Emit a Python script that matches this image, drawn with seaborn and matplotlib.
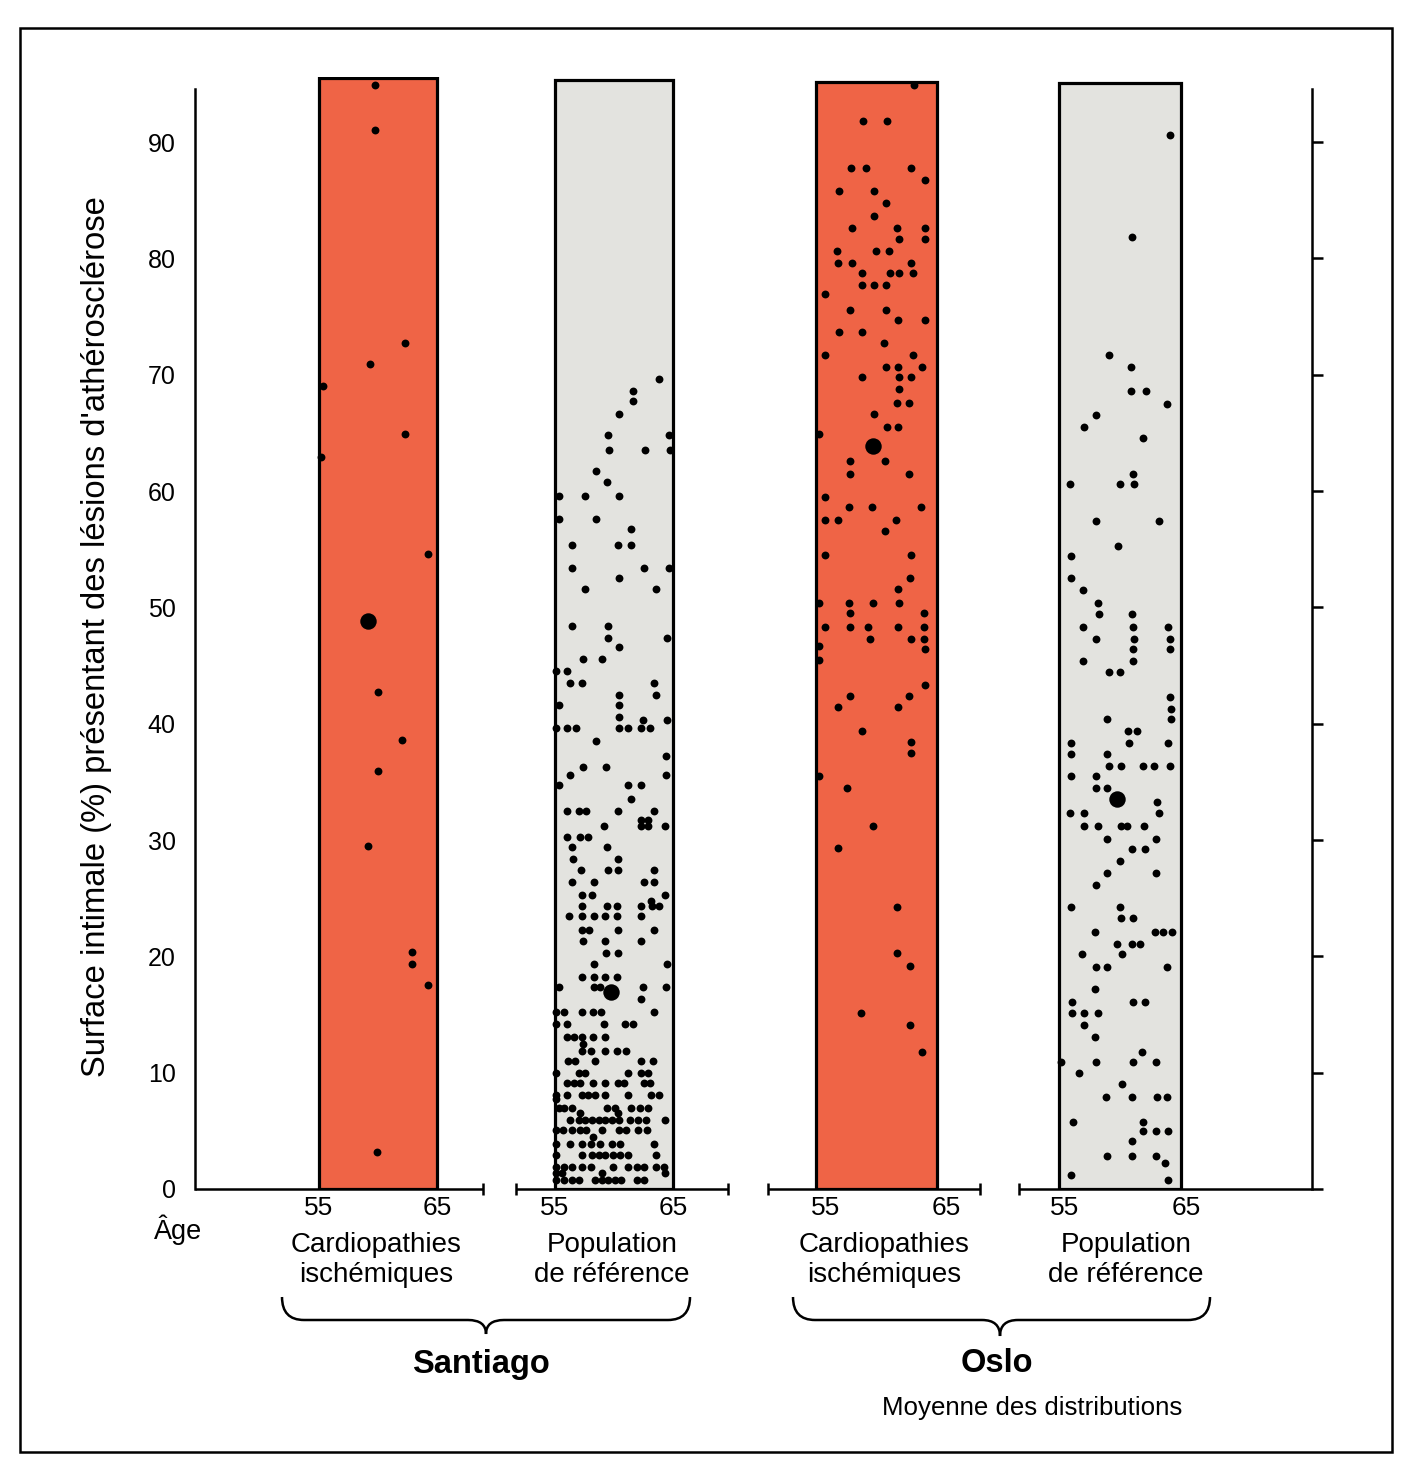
import numpy as np
import pandas as pd
import matplotlib
matplotlib.use("Agg")
import matplotlib.pyplot as plt
from matplotlib.path import Path
from matplotlib.patches import PathPatch, Rectangle
from matplotlib import font_manager
import seaborn as sns

# ------------------------------------------------------------------
# data : age (years) and intimal surface with atherosclerosis (%)
# ------------------------------------------------------------------
groups = ["Santiago cardio", "Santiago ref", "Oslo cardio", "Oslo ref"]

# Santiago - cardiopathies ischemiques
sc_age = [59.7, 59.7, 59.3, 62.3, 55.3, 55.2, 62.3, 64.2, 60.0, 62.0, 60.0,
          59.1, 62.9, 62.9, 64.2, 59.9]
sc_pct = [94.9, 91.0, 70.9, 72.7, 69.0, 62.9, 64.9, 54.6, 42.7, 38.6, 35.9,
          29.5, 20.4, 19.3, 17.5, 3.2]

# Santiago - population de reference (one list of ages per % level)
sr_levels = [69.6, 68.6, 67.7, 66.6, 64.8, 63.5, 61.7, 60.8, 59.6, 57.6, 56.7,
             55.4, 53.4, 52.5, 51.6, 48.4, 47.4, 46.6, 45.6, 44.5, 43.5, 42.5,
             41.6, 40.6, 40.3, 39.6, 38.5, 37.2, 36.3, 35.6, 34.7, 33.5, 32.5,
             31.7, 31.2, 30.3, 29.4, 28.4, 27.4, 26.4, 25.3, 24.8, 24.3, 23.5,
             22.3, 21.3, 20.3, 19.3, 18.2, 17.4, 16.3, 15.2, 14.2, 13.1, 12.5,
             11.9, 11.0, 10.0, 9.1, 8.1, 7.7, 7.0, 6.5, 5.9, 5.1, 4.5, 3.9,
             2.9, 1.9, 1.4, 0.8]
sr_ages = [[63.8], [61.6], [61.6], [60.4], [59.5, 64.6], [59.6, 62.6, 64.7],
           [58.5], [59.4], [55.3, 57.5, 60.4], [55.3, 58.5], [61.4],
           [56.4, 60.3, 61.4], [56.4, 62.5, 64.6], [60.4], [57.5, 63.5],
           [56.4, 59.5], [59.5, 64.5], [60.4], [57.4, 59.0], [55.1, 56.0],
           [56.3, 57.3, 63.4], [60.4, 63.5], [55.3, 60.4], [60.4], [62.4, 64.5],
           [55.1, 56.0, 56.8, 60.4, 61.2, 62.3, 63.0], [58.5], [64.4],
           [57.4, 59.3], [56.3, 64.4], [55.3, 61.2, 62.3], [61.4],
           [56.0, 57.0, 57.6, 60.3, 63.4], [62.3, 62.9], [59.1, 62.3, 62.9, 64.3],
           [56.0, 57.1, 57.8], [56.4, 59.4], [56.5, 60.3],
           [57.2, 59.5, 60.3, 63.4], [56.4, 58.3, 62.5, 63.4], [57.3, 58.1, 64.3],
           [63.1], [57.3, 59.4, 60.2, 62.3, 63.2, 63.8],
           [56.2, 57.3, 58.3, 59.2, 60.2, 62.3], [57.3, 57.9, 60.3, 63.4],
           [57.4, 59.2, 62.3], [59.3, 60.3], [58.3, 64.5],
           [57.3, 58.3, 59.2, 60.2], [55.3, 58.3, 58.8, 62.4, 64.4], [62.3],
           [55.1, 55.8, 57.3, 58.2, 58.9, 63.4], [55.1, 56.0, 59.1, 60.9, 61.6],
           [56.0, 56.6, 57.3, 58.2, 59.2], [57.4],
           [57.3, 58.0, 59.2, 60.2, 61.0], [56.1, 56.7, 58.4, 62.3, 63.3],
           [55.1, 57.0, 57.5, 61.2, 62.3, 62.9],
           [56.0, 56.6, 57.1, 58.2, 59.2, 60.3, 60.8, 62.5, 63.0],
           [55.1, 56.0, 57.3, 57.8, 58.4, 59.2, 61.2, 63.1, 63.8], [55.1],
           [55.3, 55.8, 56.4, 59.4, 60.1, 61.4, 62.2, 62.9], [57.1, 60.3],
           [56.3, 57.0, 57.5, 58.1, 58.7, 59.2, 59.8, 60.4, 61.3, 62.0, 62.7, 64.3],
           [55.1, 55.7, 56.4, 57.1, 57.6, 59.0, 60.4, 61.0, 62.0, 62.8], [58.2],
           [55.1, 56.3, 57.3, 58.0, 58.8, 59.8, 60.5, 63.4],
           [55.1, 57.3, 58.1, 58.7, 59.2, 59.9, 60.5, 61.2, 63.5],
           [55.1, 55.8, 56.4, 57.3, 58.0, 59.9, 61.2, 61.9, 62.5, 63.5, 64.2],
           [55.1, 55.6, 59.0, 64.3],
           [55.1, 55.8, 56.4, 57.0, 58.4, 59.0, 59.5, 60.1, 60.6, 61.9, 62.5]]

# Oslo - cardiopathies ischemiques
oc_levels = [94.9, 91.8, 87.8, 86.7, 85.8, 84.8, 83.6, 82.6, 81.7, 80.6, 79.6,
             78.7, 77.7, 76.9, 75.6, 74.7, 73.7, 72.7, 71.7, 70.7, 69.8, 68.8,
             67.6, 66.6, 65.5, 64.9, 62.6, 61.5, 59.5, 58.6, 57.5, 56.6, 54.5,
             52.5, 51.6, 50.4, 49.5, 48.3, 47.3, 46.7, 46.4, 45.5, 43.3, 42.4,
             41.4, 39.4, 38.4, 37.5, 35.5, 34.5, 31.2, 29.3, 24.2, 20.3, 19.2,
             15.1, 14.1, 11.8]
oc_ages = [[63.1], [58.9, 60.9], [57.9, 59.1, 62.9], [64.0], [56.9, 59.8],
           [60.8], [59.8], [58.0, 61.7, 64.0], [61.9, 64.0], [56.7, 60.0, 61.0],
           [56.8, 58.0, 62.9], [58.8, 61.1, 61.9, 63.0], [58.8, 59.8, 60.8],
           [55.7], [57.8, 60.8], [61.8, 64.0], [56.9, 58.8], [60.6], [55.7, 63.0],
           [60.8, 61.8, 63.8], [58.8, 61.9, 62.9], [61.9], [61.7, 62.7], [59.8],
           [60.9, 61.8], [55.2], [57.8, 60.7], [57.8, 62.7], [55.7],
           [57.7, 59.6, 63.7], [55.7, 56.8, 61.6], [60.7], [55.7, 62.9], [62.8],
           [61.8], [55.2, 57.7, 59.7, 61.9], [57.8, 63.9],
           [55.7, 57.8, 59.3, 61.8, 63.9], [59.5, 62.9, 63.9], [55.2], [64.0],
           [55.2], [64.0], [57.8, 62.7], [56.8, 61.8], [58.8], [62.9], [62.9],
           [55.2], [57.6], [59.7], [56.8], [61.7], [61.7], [62.8], [58.7],
           [62.8], [63.8]]

# Oslo - population de reference
or_levels = [90.6, 81.8, 71.7, 70.7, 68.6, 67.5, 66.5, 65.5, 64.6, 61.5, 60.6,
             57.4, 55.3, 54.4, 52.5, 51.5, 50.4, 49.4, 48.3, 47.3, 46.4, 45.4,
             44.4, 42.3, 41.3, 40.4, 39.4, 38.3, 37.4, 36.4, 35.5, 34.5, 33.3,
             32.3, 31.2, 30.1, 29.2, 28.2, 27.2, 26.1, 24.2, 23.3, 22.1, 21.1,
             20.2, 19.1, 17.2, 16.1, 15.1, 14.1, 13.1, 11.8, 10.9, 10.0, 9.0,
             7.9, 5.8, 5.0, 4.1, 2.8, 2.2, 1.2, 0.8]
or_ages = [[64.1], [61.0], [59.1], [60.9], [60.9, 62.2], [63.9], [58.1], [57.1],
           [61.9], [61.1], [55.9, 60.0, 61.2], [58.1, 63.2], [59.9], [56.0],
           [56.0], [57.0], [58.2], [58.3, 61.0], [57.0, 61.1, 64.0],
           [58.1, 61.2, 64.1], [61.1, 64.1], [57.0, 61.1], [59.1, 60.0], [64.1],
           [64.2], [59.0, 64.2], [60.7, 61.4], [56.0, 60.8, 64.0], [56.0, 59.0],
           [59.1, 60.1, 61.9, 62.8, 64.1], [56.0, 58.1], [58.1, 59.0], [63.1],
           [55.9, 57.1, 63.2], [57.1, 58.2, 60.1, 60.6, 62.0], [59.0, 63.0],
           [61.0, 62.1], [60.0], [59.0, 63.0], [58.1], [56.0, 60.0], [60.1, 61.1],
           [58.0, 62.9, 63.6, 64.3], [59.8, 61.0, 61.7], [56.9, 60.2],
           [58.1, 59.0, 63.9], [58.0], [56.1, 61.1, 62.1], [56.1, 57.1, 58.2],
           [57.1], [58.0], [61.8], [55.2, 58.1, 61.1, 63.0], [56.7], [60.2],
           [58.9, 61.0, 63.1, 63.9], [56.2, 61.9], [61.9, 63.0, 64.0], [61.0],
           [59.0, 61.0, 63.0], [63.7], [56.0], [64.0]]

# group means (large dots) and height of the shaded bands
mean_age = [59.1, 59.7, 59.7, 59.8]
mean_pct = [48.8, 16.9, 63.9, 33.5]
band_top = [95.5, 95.3, 95.2, 95.1]

# ------------------------------------------------------------------
W, H = 1421, 1468
offsets = [0.0, 19.75, 41.6, 61.9]          # left edge of each band (age 55)
widths = [9.9, 9.9, 10.1, 10.2]
label_shift = [0.0, 0.0, 0.8, 0.5]          # printed "55/65" sit a bit right in Oslo
band_colors = ["#ef6446", "#e3e3df", "#ef6446", "#e3e3df"]


def expand(levels, ages):
    a = [x for lv, row in zip(levels, ages) for x in row]
    p = [lv for lv, row in zip(levels, ages) for x in row]
    return a, p


sr_a, sr_p = expand(sr_levels, sr_ages)
oc_a, oc_p = expand(oc_levels, oc_ages)
or_a, or_p = expand(or_levels, or_ages)

frames = []
for g, a, p in zip(groups, [sc_age, sr_a, oc_a, or_a], [sc_pct, sr_p, oc_p, or_p]):
    frames.append(pd.DataFrame({"group": g, "age": a, "pct": p}))
df = pd.concat(frames, ignore_index=True)
off_map = dict(zip(groups, offsets))
w_map = dict(zip(groups, widths))
df["x"] = df["group"].map(off_map) + (df["age"] - 55) * df["group"].map(w_map) / 10

df_mean = pd.DataFrame({"group": groups, "age": mean_age, "pct": mean_pct})
df_mean["x"] = (df_mean["group"].map(off_map)
                + (df_mean["age"] - 55) * df_mean["group"].map(w_map) / 10)

sns.set_style("white")
plt.rcParams["font.family"] = ["Liberation Sans", "DejaVu Sans"]
plt.rcParams["text.color"] = "black"
plt.rcParams["xtick.color"] = "black"
plt.rcParams["ytick.color"] = "black"

try:
    font_manager.findfont("Liberation Sans Narrow", fallback_to_default=False)
    narrow = ["Liberation Sans Narrow", "Liberation Sans"]
    narrow_size = 22.5
except Exception:
    narrow = ["Liberation Sans", "DejaVu Sans"]
    narrow_size = 18.6

fig = plt.figure(figsize=(W / 100, H / 100), dpi=100)
fig.patch.set_facecolor("white")


def fx(x):
    return x / W


def fy(y):
    return 1 - y / H


px_per_unit = 11.633
ax = fig.add_axes([fx(195), fy(1189), (1312 - 195) / W, 95.6 * px_per_unit / H])
ax.set_facecolor("none")

ax.bar(offsets, band_top, width=widths, align="edge", color=band_colors,
       edgecolor="black", linewidth=2.3, zorder=1)

sns.scatterplot(data=df, x="x", y="pct", color="black", s=32, linewidth=0,
                ax=ax, legend=False, zorder=3, clip_on=False)
sns.scatterplot(data=df_mean, x="x", y="pct", color="black", s=140, linewidth=0,
                ax=ax, legend=False, zorder=4)

xmin, xmax = -10.38, 83.1
ax.set_xlim(xmin, xmax)
ax.set_ylim(0, 95.6)
ax.set_xlabel("")
ax.set_ylabel("")

for s in ["top", "bottom", "right"]:
    ax.spines[s].set_visible(False)
ax.spines["left"].set_bounds(0, 94.6)
ax.spines["left"].set_linewidth(1.8)
ax.spines["left"].set_color("black")

ax.set_yticks(range(0, 100, 10))
ax.tick_params(axis="y", length=0, pad=14, labelsize=18)

xt = []
for o, w, sh in zip(offsets, widths, label_shift):
    xt += [o + sh, o + w + sh]
ax.set_xticks(xt, ["55", "65"] * 4)
ax.tick_params(axis="x", length=0, pad=5, labelsize=19)

# right hand axis with outward ticks, no labels
ax2 = ax.twinx()
ax2.set_ylim(0, 95.6)
for s in ["top", "bottom", "left"]:
    ax2.spines[s].set_visible(False)
ax2.spines["right"].set_bounds(0, 94.6)
ax2.spines["right"].set_linewidth(1.8)
ax2.spines["right"].set_color("black")
ax2.set_yticks(range(0, 100, 10))
ax2.tick_params(axis="y", direction="out", length=8, width=1.8, labelright=False)

# broken baseline, one piece per group
u = lambda p: (p - 319) / 11.95
pieces = [(195, 483), (516, 728), (768, 980), (1019, 1312)]
for a, b in pieces:
    ax.plot([u(a), u(b)], [0, 0], color="black", lw=1.8, clip_on=False,
            solid_capstyle="butt", zorder=5)
ends = [u(483), u(516), u(728), u(768), u(980), u(1019)]
ax.vlines(ends, -0.5, 0.5, color="black", lw=1.8, clip_on=False, zorder=5)

# overlay for frame and braces (pixel coordinates)
ov = fig.add_axes([0, 0, 1, 1], zorder=-1)
ov.set_xlim(0, W)
ov.set_ylim(H, 0)
ov.axis("off")
ov.add_patch(Rectangle((20, 28), 1372, 1424, fill=False, edgecolor="black",
                       linewidth=1.8))


def brace(x0, x1, xm, y_end, y_h, y_tip):
    verts = [(x0, y_end), (x0, y_h), (x0 + 22, y_h), (xm - 18, y_h),
             (xm, y_h), (xm, y_tip), (xm, y_h), (xm + 18, y_h),
             (x1 - 22, y_h), (x1, y_h), (x1, y_end)]
    codes = [Path.MOVETO, Path.CURVE3, Path.CURVE3, Path.LINETO,
             Path.CURVE3, Path.CURVE3, Path.CURVE3, Path.CURVE3,
             Path.LINETO, Path.CURVE3, Path.CURVE3]
    ov.add_patch(PathPatch(Path(verts, codes), fill=False, edgecolor="black",
                           linewidth=1.8))


brace(282, 690, 486, 1297, 1320, 1334)
brace(793, 1210, 1000, 1297, 1320, 1336)

# texts
fig.text(fx(97), fy(637), "Surface intimale (%) présentant des lésions d'athérosclérose",
         rotation=90, ha="center", va="center", fontsize=23.6)
fig.text(fx(178), fy(1230), "Âge", ha="center", va="center", fontsize=19.5)

cat_labels = ["Cardiopathies\nischémiques", "Population\nde référence",
              "Cardiopathies\nischémiques", "Population\nde référence"]
cat_x = [376, 612, 884, 1126]
for lab, cx in zip(cat_labels, cat_x):
    fig.text(fx(cx), fy(1260), lab, ha="center", va="center", fontsize=20,
             linespacing=1.22, multialignment="center")

fig.text(fx(481), fy(1364), "Santiago", ha="center", va="center", fontsize=23.5,
         fontweight="bold")
fig.text(fx(997), fy(1364), "Oslo", ha="center", va="center", fontsize=23.5,
         fontweight="bold")
fig.text(fx(1032), fy(1408), "Moyenne des distributions", ha="center",
         va="center", fontsize=narrow_size, family=narrow)

fig.savefig("out.png", dpi=100, facecolor="white")
